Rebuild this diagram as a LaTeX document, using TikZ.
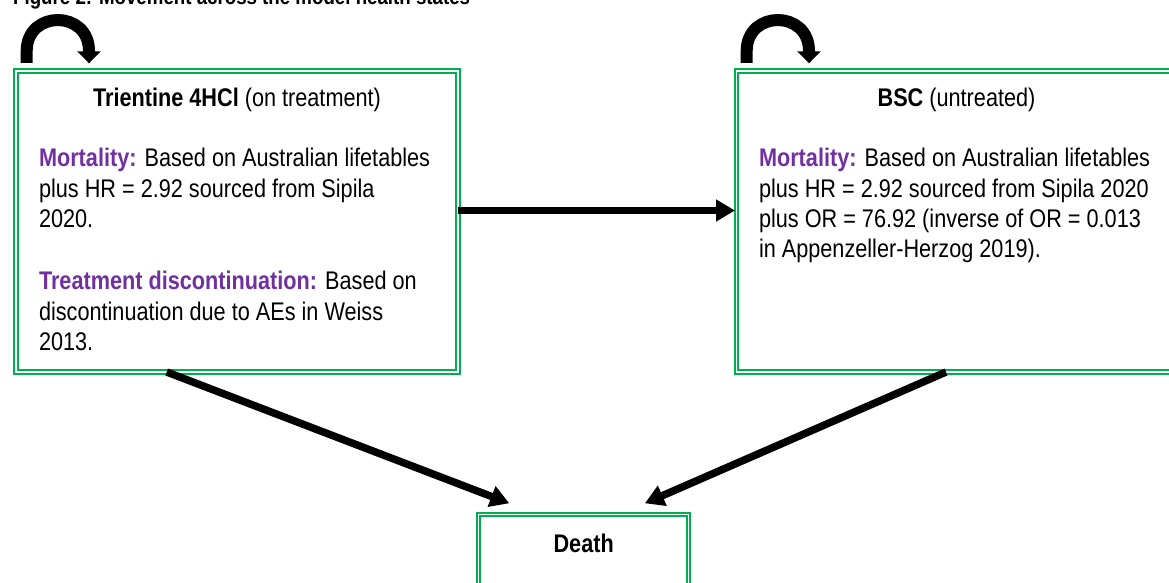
\documentclass[tikz,border=0pt]{standalone}
\usepackage{fontspec}
\setmainfont{Liberation Sans}[FakeStretch=0.85]
\usetikzlibrary{arrows.meta,calc}
\definecolor{boxgreen}{HTML}{00B050}
\definecolor{labpurple}{HTML}{7030A0}
\begin{document}
\begin{tikzpicture}[x=1bp,y=1bp,
  box/.style={draw=boxgreen, double=white, line width=2bp, double distance=1.4bp,
    rectangle, inner sep=0pt, outer sep=0pt, anchor=north west},
  arr/.style={line width=7.5bp, -{Triangle[length=19bp,width=21bp]}},
  cyc/.style={line width=12bp, -{Triangle[length=12bp,width=23bp]}},
  txt/.style={inner sep=0pt, outer sep=0pt, font=\fontsize{25.5bp}{30.3bp}\selectfont},
  lab/.style={text=labpurple, font=\bfseries}]
\useasboundingbox (0,0) rectangle (1169,-583);
\clip (0,0) rectangle (1169,-583);
% title (cropped at top)
\node[inner sep=0pt, anchor=base west, font=\fontsize{22bp}{26bp}\selectfont\bfseries] (fig) at (13,-5) {Figure 2: Movement across the model health states};
% boxes
\node[box, minimum width=442bp, minimum height=301bp] (trient) at (16,-71) {};
\node[box, minimum width=441bp, minimum height=301bp] (bsc) at (736.5,-71) {};
\node[box, minimum width=210bp, minimum height=100bp] (death) at (478.7,-514.7) {};
% texts
\node[txt, anchor=base] (t1) at (237,-107) {\textbf{Trientine 4HCl} (on treatment)};
\node[txt, anchor=base west] (t2) at (39,-167) {\parbox[t]{420bp}{\textcolor{labpurple}{\bfseries Mortality:} Based on Australian lifetables\\plus HR = 2.92 sourced from Sipila\\2020.}};
\node[txt, anchor=base west] (t3) at (39,-290) {\parbox[t]{420bp}{\textcolor{labpurple}{\bfseries Treatment discontinuation:} Based on\\discontinuation due to AEs in Weiss\\2013.}};
\node[txt, anchor=base] (b1) at (956.5,-107) {\textbf{BSC} (untreated)};
\node[txt, anchor=base west] (b2) at (759,-167) {\parbox[t]{420bp}{\textcolor{labpurple}{\bfseries Mortality:} Based on Australian lifetables\\plus HR = 2.92 sourced from Sipila 2020\\plus OR = 76.92 (inverse of OR = 0.013\\in Appenzeller-Herzog 2019).}};
\node[txt, anchor=base] (d1) at (583.7,-552) {\textbf{Death}};
% connectors
\draw[arr] ([yshift=11bp]trient.east) -- ([yshift=11bp,xshift=-1.5bp]bsc.west);
\draw[arr] ([xshift=150.7bp]trient.south west) -- ($(death.north west)+(30.6,11.4)$);
\draw[arr] ([xshift=209.5bp]bsc.south west) -- ($(death.north east)+(-43.8,11.4)$);
% self loops
\coordinate (la) at ($(trient.north west)+(10.7,8)$);
\coordinate (ra) at ($(bsc.north west)+(10.2,8)$);
\draw[cyc] (la) -- ++(0,12) to[out=90,in=90,looseness=1.7] ++(62.3,0) -- ++(0,-12.3);
\draw[cyc] (ra) -- ++(0,12) to[out=90,in=90,looseness=1.7] ++(62.3,0) -- ++(0,-12.3);
\end{tikzpicture}
\end{document}
